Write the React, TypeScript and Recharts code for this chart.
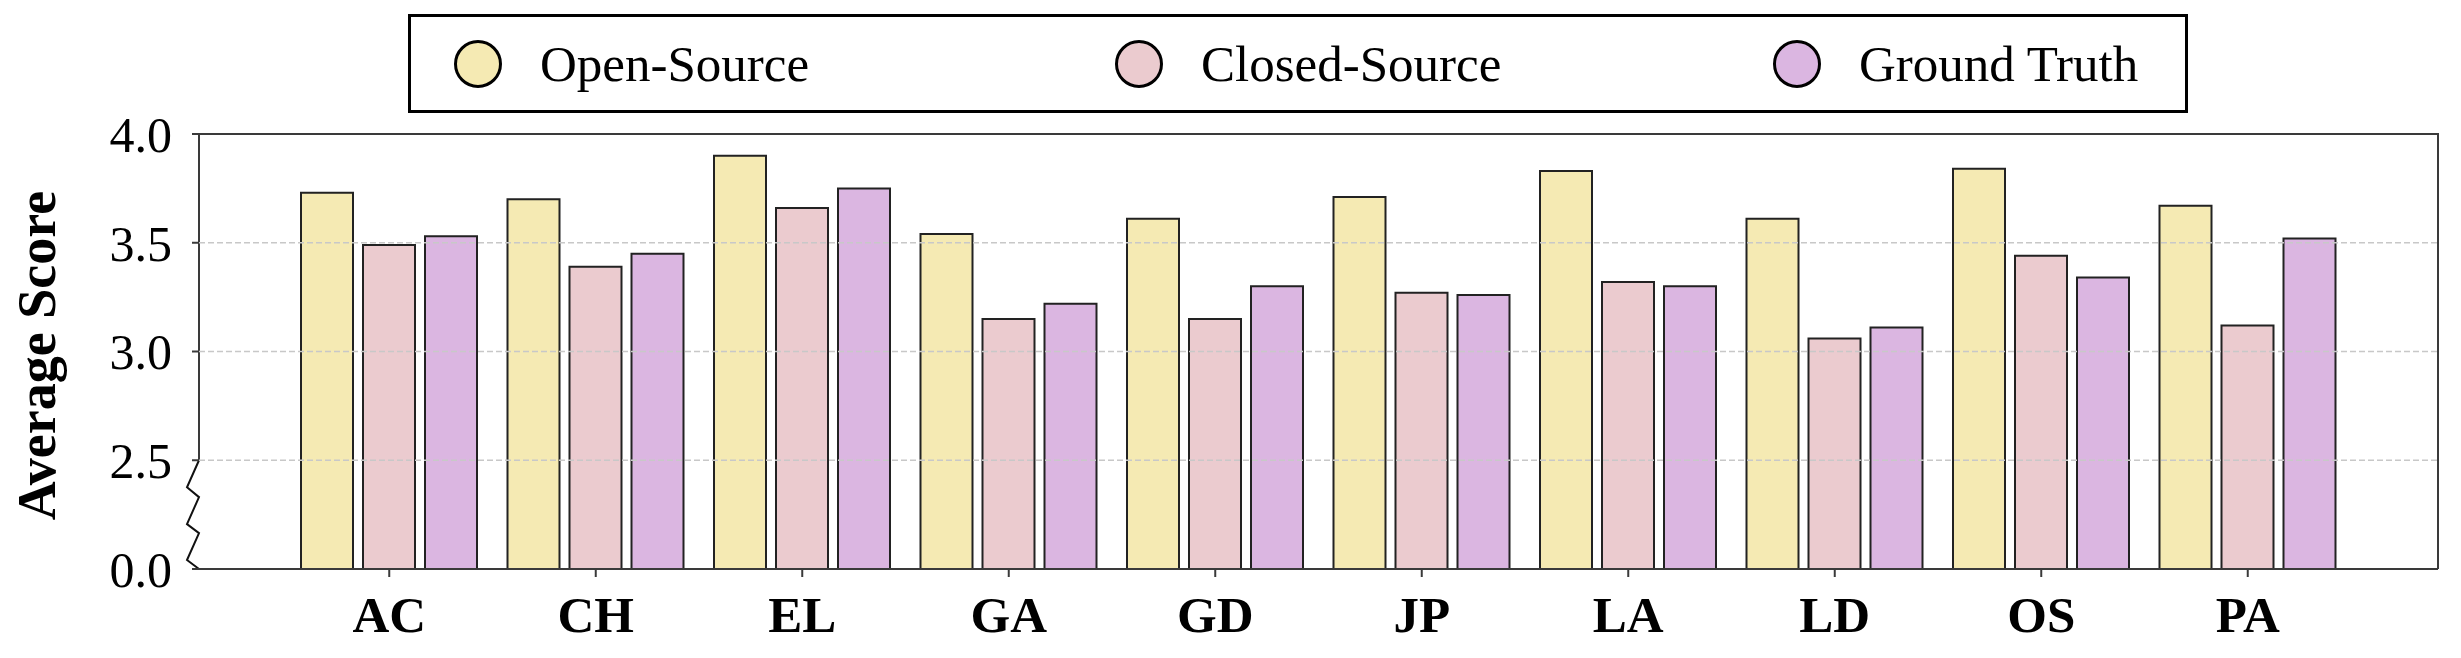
import React from 'react';
import { BarChart, Bar, XAxis, YAxis, ReferenceLine, Legend } from 'recharts';

const categories = ['AC', 'CH', 'EL', 'GA', 'GD', 'JP', 'LA', 'LD', 'OS', 'PA'];
const openSource = [3.73, 3.7, 3.9, 3.54, 3.61, 3.71, 3.83, 3.61, 3.84, 3.67];
const closedSource = [3.49, 3.39, 3.66, 3.15, 3.15, 3.27, 3.32, 3.06, 3.44, 3.12];
const groundTruth = [3.53, 3.45, 3.75, 3.22, 3.3, 3.26, 3.3, 3.11, 3.34, 3.52];

const seriesNames = ['Open-Source', 'Closed-Source', 'Ground Truth'];
const seriesColors = ['#F5EAB3', '#EBCBCF', '#DBB6E1'];
const yTickValues = [0, 2.5, 3.0, 3.5, 4.0];
const gridValues = [2.5, 3.0, 3.5];

// broken y axis: 0..2.5 is squeezed into the same height as 2.5..3.0
const BREAK = 2.5;
const toAxis = (v: number) => (v >= BREAK ? v - 2 : v * 0.2);
const fromAxis = (t: number) => (t >= 0.5 ? t + 2 : t / 0.2);

const W = 2461;
const H = 658;
const MARGIN = { top: 14, right: 23, bottom: 19, left: 99 };
const PLOT_LEFT = 199;
const PLOT_RIGHT = W - MARGIN.right;
const PLOT_TOP = 134;
const PLOT_BOTTOM = 569;
const Y_MAX = toAxis(4.0);

const SERIF = '"Times New Roman", "Liberation Serif", serif';
const SPINE = '#3a3a3a';

const rows = categories.map((name, i) => ({
  name,
  open: toAxis(openSource[i]),
  closed: toAxis(closedSource[i]),
  truth: toAxis(groundTruth[i]),
}));
const keys = ['open', 'closed', 'truth'];

function LegendBox() {
  const centers = [68, 729, 1387];
  return (
    <div style={{ height: 120 }}>
      <div
        style={{
          position: 'relative',
          width: 1780,
          height: 99,
          boxSizing: 'border-box',
          border: '3px solid #000',
          background: '#fff',
        }}
      >
        {seriesNames.map((n, i) => (
          <div
            key={n}
            style={{
              position: 'absolute',
              left: centers[i] - 27,
              top: 0,
              height: 93,
              display: 'flex',
              alignItems: 'center',
              fontFamily: SERIF,
              fontSize: 51,
              color: '#000',
              whiteSpace: 'nowrap',
            }}
          >
            <svg width={52} height={52} style={{ marginRight: 36 }}>
              <circle cx={26} cy={26} r={22.5} fill={seriesColors[i]} stroke="#000" strokeWidth={3} />
            </svg>
            {n}
          </div>
        ))}
      </div>
    </div>
  );
}

// plot frame: top and right spines, left spine down to the break, then the zigzag
function Frame() {
  const yBreak = PLOT_BOTTOM - (toAxis(BREAK) / Y_MAX) * (PLOT_BOTTOM - PLOT_TOP);
  const span = PLOT_BOTTOM - yBreak;
  const zig = [0, 0.248, 0.339, 0.587, 0.67, 0.917, 1];
  const pts = zig.map((f, i) => `${PLOT_LEFT - (i % 2 ? 12 : 0)},${yBreak + f * span}`);
  return (
    <g>
      <polyline
        points={`${PLOT_LEFT},${yBreak} ${PLOT_LEFT},${PLOT_TOP} ${PLOT_RIGHT},${PLOT_TOP} ${PLOT_RIGHT},${PLOT_BOTTOM}`}
        fill="none"
        stroke={SPINE}
        strokeWidth={2}
      />
      <polyline points={pts.join(' ')} fill="none" stroke="#111" strokeWidth={2} />
    </g>
  );
}

export default function App() {
  return (
    <div style={{ position: 'absolute', left: 0, top: 0, width: W, height: H, background: '#fff' }}>
      <BarChart width={W} height={H} data={rows} margin={MARGIN} barGap={10}>
        <Legend
          verticalAlign="top"
          align="left"
          content={<LegendBox />}
          wrapperStyle={{ left: 408, top: 14, width: 1780 }}
        />
        <XAxis
          dataKey="name"
          height={70}
          padding={{ left: 87, right: 87 }}
          tickSize={8}
          tickMargin={19}
          axisLine={{ stroke: SPINE, strokeWidth: 2 }}
          tickLine={{ stroke: SPINE, strokeWidth: 2 }}
          tick={{ fontFamily: SERIF, fontSize: 51, fontWeight: 'bold', fill: '#000' }}
        />
        <YAxis
          width={100}
          domain={[0, Y_MAX]}
          ticks={yTickValues.map(toAxis)}
          tickFormatter={(t: number) => fromAxis(t).toFixed(1)}
          axisLine={false}
          tickSize={7}
          tickMargin={20}
          tickLine={{ stroke: SPINE, strokeWidth: 2 }}
          tick={{ fontFamily: SERIF, fontSize: 50, fill: '#000' }}
          label={{
            content: (p: any) => {
              const vb = p.viewBox || { x: 99, y: PLOT_TOP, height: PLOT_BOTTOM - PLOT_TOP };
              const cx = vb.x - 62;
              const cy = vb.y + vb.height / 2 + 4;
              return (
                <text
                  x={cx}
                  y={cy}
                  transform={`rotate(-90 ${cx} ${cy})`}
                  textAnchor="middle"
                  dominantBaseline="central"
                  fontFamily={SERIF}
                  fontSize={54}
                  fontWeight="bold"
                  fill="#000"
                >
                  Average Score
                </text>
              );
            },
          }}
        />
        {keys.map((k, i) => (
          <Bar
            key={k}
            dataKey={k}
            name={seriesNames[i]}
            fill={seriesColors[i]}
            stroke="#222"
            strokeWidth={2}
            barSize={52}
            isAnimationActive={false}
          />
        ))}
        {gridValues.map((g) => (
          <ReferenceLine
            key={g}
            y={toAxis(g)}
            stroke="#c8c8c8"
            strokeWidth={1.5}
            strokeDasharray="6 3"
          />
        ))}
        <Frame />
      </BarChart>
    </div>
  );
}
